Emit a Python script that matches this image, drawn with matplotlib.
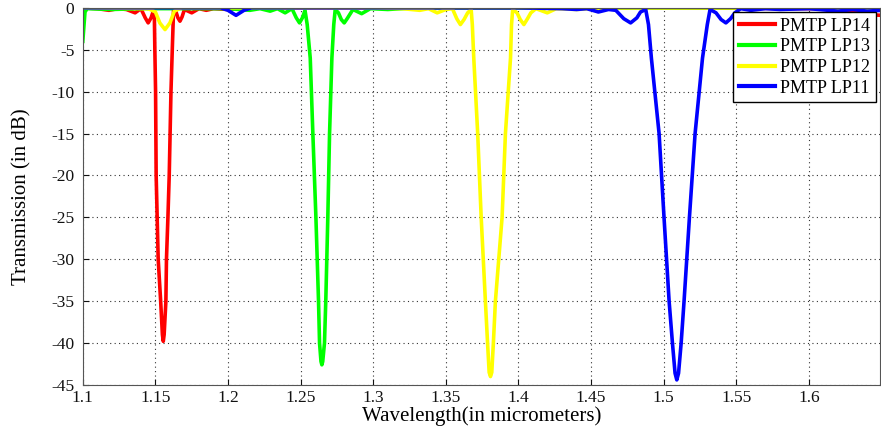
import matplotlib
matplotlib.use("Agg")
import matplotlib.pyplot as plt

# wavelength (um) and transmission (dB)
lp14_wl = [1.100, 1.110, 1.118, 1.124, 1.130, 1.136, 1.140, 1.143, 1.145, 1.147, 1.1485,
           1.1492, 1.1496, 1.1501, 1.1505, 1.1512, 1.1519, 1.1536, 1.1548, 1.1554,
           1.1560, 1.1572, 1.1576, 1.1586, 1.1595, 1.1607, 1.1616, 1.1625, 1.1640,
           1.1655, 1.1669, 1.1683, 1.170, 1.175, 1.180, 1.185, 1.190, 1.200, 1.210,
           1.300, 1.500, 1.610, 1.620, 1.630, 1.640, 1.650]
lp14_db = [0.0, -0.1, -0.3, -0.1, -0.2, -0.6, -0.1, -1.2, -1.8, -1.2, -0.4,
           -0.2, -5.0, -10.0, -20.0, -25.0, -30.0, -35.0, -39.0, -39.8,
           -39.0, -35.0, -30.0, -25.0, -20.0, -10.0, -5.0, -0.2, -0.4,
           -1.2, -1.6, -1.1, -0.2, -0.6, -0.1, -0.3, -0.1, -0.2, 0.0,
           0.0, 0.0, -0.1, -0.5, -0.3, -0.8, -0.9]

lp13_wl = [1.1000, 1.1015, 1.1030, 1.120, 1.140, 1.200, 1.215, 1.222, 1.229, 1.234,
           1.2393, 1.2440, 1.2470, 1.2492, 1.2512, 1.2530, 1.2545, 1.2566, 1.2584,
           1.2605, 1.2623, 1.2630, 1.2640, 1.2646, 1.2652, 1.2664, 1.2673, 1.2687,
           1.2699, 1.2715, 1.2728, 1.2738, 1.2760, 1.2780, 1.2800, 1.2820, 1.2860,
           1.2920, 1.2980, 1.310, 1.330, 1.650]
lp13_db = [-4.0, -0.5, -0.1, -0.2, -0.1, -0.1, -0.3, -0.1, -0.4, -0.1,
           -0.6, -0.1, -1.2, -1.8, -1.2, -0.3, -2.0, -6.0, -15.0,
           -25.0, -35.0, -40.0, -42.2, -42.6, -42.2, -40.0, -35.0, -25.0,
           -15.0, -6.0, -2.0, -0.2, -0.6, -1.4, -1.8, -1.3, -0.2,
           -0.7, -0.1, -0.2, 0.0, 0.0]

lp12_wl = [1.100, 1.145, 1.150, 1.153, 1.1566, 1.160, 1.163, 1.168, 1.300, 1.320,
           1.332, 1.338, 1.344, 1.350, 1.3545, 1.3575, 1.3600, 1.3625, 1.3650,
           1.3674, 1.3682, 1.3692, 1.3719, 1.3743, 1.3772, 1.3787, 1.3798, 1.3807,
           1.3816, 1.3827, 1.3841, 1.3887, 1.3910, 1.3945, 1.3952, 1.3960, 1.3990,
           1.4012, 1.4037, 1.4062, 1.4085, 1.4120, 1.4198, 1.4260, 1.440, 1.460,
           1.650]
lp12_db = [0.0, -0.1, -0.5, -1.8, -2.6, -1.8, -0.4, 0.0, 0.0, -0.1,
           -0.3, -0.1, -0.6, -0.2, -0.1, -1.3, -2.0, -1.4, -0.6,
           -0.2, -2.0, -6.0, -15.0, -25.0, -35.0, -40.0, -43.5, -44.0,
           -43.5, -40.0, -35.0, -25.0, -15.0, -6.0, -2.0, -0.2, -0.6,
           -1.4, -2.0, -1.3, -0.6, -0.1, -0.6, -0.1, -0.2, 0.0,
           0.0]

lp11_wl = [1.100, 1.195, 1.200, 1.2055, 1.211, 1.216, 1.400, 1.430, 1.440, 1.447,
           1.455, 1.462, 1.467, 1.4725, 1.4772, 1.4815, 1.4840, 1.4876, 1.4895,
           1.4915, 1.4968, 1.5002, 1.5037, 1.5060, 1.5078, 1.5090, 1.5102, 1.5120,
           1.5140, 1.5177, 1.5216, 1.5267, 1.5300, 1.5319, 1.5360, 1.5395, 1.5428,
           1.5460, 1.5490, 1.5530, 1.5600, 1.5700, 1.580, 1.600, 1.620, 1.630,
           1.640, 1.650]
lp11_db = [0.0, 0.0, -0.3, -0.9, -0.3, 0.0, 0.0, -0.1, -0.2, -0.1,
           -0.5, -0.2, -0.3, -1.3, -1.8, -1.2, -0.5, -0.2, -2.0,
           -6.0, -15.0, -25.0, -35.0, -40.0, -43.6, -44.4, -43.6, -40.0,
           -35.0, -25.0, -15.0, -6.0, -2.0, -0.2, -0.6, -1.4, -1.8,
           -1.3, -0.6, -0.1, -0.3, -0.1, -0.2, -0.1, -0.4, -0.2,
           -0.4, -0.3]

names = ["PMTP LP14", "PMTP LP13", "PMTP LP12", "PMTP LP11"]
colors = ["#ff0000", "#00ff00", "#ffff00", "#0000ff"]

plt.rcParams["font.family"] = ["Liberation Serif", "DejaVu Serif"]
plt.rcParams["axes.unicode_minus"] = False

fig = plt.figure(figsize=(8.81, 4.33), dpi=100)
ax = fig.add_axes([0.094, 0.111, 0.905, 0.871])

series = [(lp14_wl, lp14_db), (lp13_wl, lp13_db), (lp12_wl, lp12_db), (lp11_wl, lp11_db)]
for (wl, db), name, c in zip(series, names, colors):
    ax.plot(wl, db, color=c, linewidth=2.6, label=name, solid_joinstyle="round")

ax.set_xlim(1.1, 1.649)
ax.set_ylim(-45, 0)
ax.set_xticks([1.1, 1.15, 1.2, 1.25, 1.3, 1.35, 1.4, 1.45, 1.5, 1.55, 1.6])
ax.set_xticklabels(["1.1", "1.15", "1.2", "1.25", "1.3", "1.35", "1.4", "1.45", "1.5", "1.55", "1.6"])
ax.set_yticks(range(-45, 1, 5))
ax.tick_params(direction="in", labelsize=12.5, length=4, colors="#111111")
ax.tick_params(axis="y", pad=6)
ax.grid(True, linestyle=(0, (1, 3)), color="#333333", linewidth=0.8)
for s in ax.spines.values():
    s.set_color("#555555")

ax.set_xlabel("Wavelength(in micrometers)", fontsize=15, labelpad=0)
ax.set_ylabel("Transmission (in dB)", fontsize=15, labelpad=14)

leg = ax.legend(loc="upper right", fontsize=13, fancybox=False, framealpha=1,
                edgecolor="black", borderpad=0.3, labelspacing=0.2,
                handlelength=2.0, handletextpad=0.3, borderaxespad=0.25)
for line in leg.get_lines():
    line.set_linewidth(3)

fig.savefig("out.png", dpi=100)
